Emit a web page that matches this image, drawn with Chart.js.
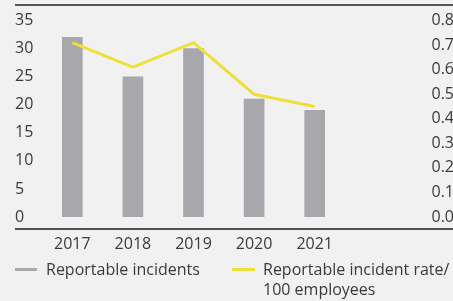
<!DOCTYPE html>
<html>
<head>
<meta charset="utf-8">
<script src="https://cdn.jsdelivr.net/npm/chart.js@4/dist/chart.umd.min.js"></script>
<style>
    html, body {
        margin: 0;
        padding: 0;
        background: #f1f1f1;
        overflow: hidden;
        width: 453px;
        height: 301px;
        font-family: "Open Sans", sans-serif;
        color: #3a3a3a;
    }
    #wrap {
        position: absolute;
        left: 0;
        top: 0;
        width: 454px;
        height: 262px;
    }
    #topRule {
        position: absolute;
        left: 15px;
        top: 4px;
        width: 438px;
        height: 0;
        border-top: 2px solid #555555;
        z-index: 2;
    }
    .legend-item {
        position: absolute;
        font-size: 16px;
        line-height: 20px;
        white-space: nowrap;
    }
    .swatch {
        position: absolute;
        height: 3px;
    }
</style>
</head>
<body>
<div id="wrap"><canvas id="chart"></canvas></div>
<div id="topRule"></div>

<div class="swatch" style="left:15px; top:268px; width:22px; background:#a8a7ac;"></div>
<div class="legend-item" id="legendBars" style="left:46px; top:259px;"></div>
<div class="swatch" style="left:232px; top:268px; width:23px; background:#eee03a;"></div>
<div class="legend-item" id="legendLine" style="left:263px; top:259px;"></div>

<script>
// Chart data
const years = ['2017', '2018', '2019', '2020', '2021'];
const incidents = [32, 25, 30, 21, 19];
const incidentRate = [0.71, 0.61, 0.71, 0.50, 0.45];

const leftTicks = [0, 5, 10, 15, 20, 25, 30, 35];
const rightTicks = [0.0, 0.1, 0.2, 0.3, 0.4, 0.5, 0.6, 0.7, 0.8];

const barLabel = 'Reportable incidents';
const lineLabel = ['Reportable incident rate/', '100 employees'];

document.getElementById('legendBars').textContent = barLabel;
document.getElementById('legendLine').innerHTML = lineLabel.join('<br>');

// Top rule and the rule under the plot, a little below the zero line
const rulesPlugin = {
    id: 'rules',
    afterDraw(chart) {
        const ctx = chart.ctx;
        const y = chart.chartArea.bottom + 12;
        ctx.save();
        ctx.lineWidth = 2;
        ctx.strokeStyle = '#555555';
        ctx.beginPath();
        ctx.moveTo(15, 5);
        ctx.lineTo(chart.width, 5);
        ctx.stroke();
        ctx.lineWidth = 1.5;
        ctx.strokeStyle = '#1a1a1a';
        ctx.beginPath();
        ctx.moveTo(15, y);
        ctx.lineTo(chart.width, y);
        ctx.stroke();
        ctx.restore();
    }
};

Chart.defaults.font.family = '"Open Sans", sans-serif';
Chart.defaults.font.size = 16;
Chart.defaults.color = '#3a3a3a';

new Chart(document.getElementById('chart').getContext('2d'), {
    type: 'bar',
    data: {
        labels: years,
        datasets: [{
            type: 'line',
            label: lineLabel.join(' '),
            data: incidentRate,
            yAxisID: 'y2',
            borderColor: '#eee03a',
            borderWidth: 3,
            pointRadius: 0,
            tension: 0,
            order: 0
        }, {
            label: barLabel,
            data: incidents,
            yAxisID: 'y',
            backgroundColor: '#a8a7ac',
            barThickness: 20,
            order: 1
        }]
    },
    options: {
        responsive: true,
        maintainAspectRatio: false,
        animation: false,
        layout: {
            padding: { top: 6, left: 15, right: 0, bottom: 0 }
        },
        plugins: {
            legend: { display: false },
            tooltip: { enabled: false }
        },
        scales: {
            x: {
                grid: { display: false },
                border: { display: false },
                ticks: { padding: 10 },
                afterFit: s => { s.height = 45; }
            },
            y: {
                position: 'left',
                min: 0,
                max: 35,
                afterBuildTicks: s => { s.ticks = leftTicks.map(v => ({ value: v })); },
                grid: { display: false },
                border: { display: false },
                ticks: { crossAlign: 'far', padding: 11, autoSkip: false },
                afterFit: s => { s.width = 27; }
            },
            y2: {
                position: 'right',
                min: 0,
                max: 0.8,
                afterBuildTicks: s => { s.ticks = rightTicks.map(v => ({ value: v })); },
                grid: { display: false },
                border: { display: false },
                ticks: {
                    crossAlign: 'far',
                    padding: 4,
                    autoSkip: false,
                    callback: v => v.toFixed(1)
                },
                afterFit: s => { s.width = 109; }
            }
        }
    },
    plugins: [rulesPlugin]
});
</script>
</body>
</html>
